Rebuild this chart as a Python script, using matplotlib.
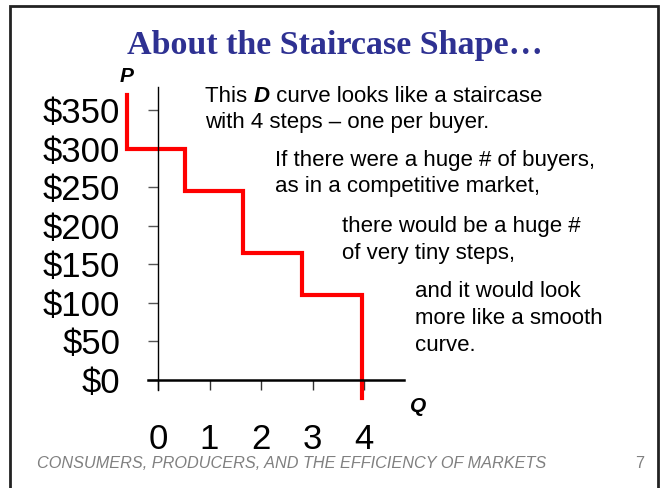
import matplotlib
matplotlib.use("Agg")
import matplotlib.pyplot as plt
from matplotlib.patches import Rectangle

# price / quantity ticks
price_ticks = [0, 50, 100, 150, 200, 250, 300, 350]
price_labels = ["$0", "$50", "$100", "$150", "$200", "$250", "$300", "$350"]
qty_ticks = [0, 1, 2, 3, 4]
qty_labels = ["0", "1", "2", "3", "4"]

# staircase demand curve (as drawn on the slide)
step_q = [-0.6, 0.52, 1.66, 2.8, 3.96]
step_p = [300, 245, 165, 110]
curve_top = 370
curve_bottom = -23

W, H = 665, 488
fig = plt.figure(figsize=(W / 100, H / 100), dpi=100)
plt.rcParams['font.family'] = ['Liberation Sans', 'DejaVu Sans']


def fx(x):
    return x / W


def fy(y):
    return 1 - y / H


# slide border
fig.patches.append(Rectangle((fx(10), fy(490)), fx(658) - fx(10), fy(6) - fy(490),
                             transform=fig.transFigure, fill=False,
                             edgecolor='#222222', linewidth=2))

fig.text(fx(335), fy(46), "About the Staircase Shape…", ha='center', va='center',
         fontsize=24.5, fontweight='bold', family='Liberation Serif', color='#2E3192')

# axes placed so that q=0 -> x 158px, p=0 -> y 380px
ax = fig.add_axes([fx(106.5), fy(418.6), fx(415.5) - fx(106.5), fy(71.4) - fy(418.6)])
ax.set_xlim(-1, 5)
ax.set_ylim(-50, 400)
ax.patch.set_alpha(0)
for s in ['top', 'right']:
    ax.spines[s].set_visible(False)
ax.spines['left'].set_position(('data', 0))
ax.spines['bottom'].set_position(('data', 0))
ax.spines['left'].set_bounds(-13, 380)
ax.spines['bottom'].set_bounds(-0.19, 4.78)
ax.spines['left'].set_linewidth(1.0)
ax.spines['bottom'].set_linewidth(1.8)

ax.set_yticks(price_ticks)
ax.set_yticklabels(price_labels)
ax.set_xticks(qty_ticks)
ax.set_xticklabels(qty_labels)
ax.tick_params(axis='y', length=7.2, width=1, color='#555555', pad=20, labelsize=25)
ax.tick_params(axis='x', length=7.2, width=1, color='#333333', pad=24, labelsize=25)

# build staircase
xs, ys = [step_q[0]], [curve_top]
for i, p in enumerate(step_p):
    xs += [step_q[i], step_q[i + 1]]
    ys += [p, p]
xs.append(step_q[-1])
ys.append(curve_bottom)
ax.plot(xs, ys, color='#FF0000', linewidth=3, solid_joinstyle='miter', clip_on=False)

fig.text(fx(127), fy(76), "P", ha='center', va='center', fontsize=15,
         fontweight='bold', fontstyle='italic')
fig.text(fx(418), fy(406), "Q", ha='center', va='center', fontsize=15,
         fontweight='bold', fontstyle='italic')

# text blocks
fs = 16
t1 = fig.text(fx(205), fy(102), "This ", fontsize=fs, va='baseline')
fig.canvas.draw()
r = fig.canvas.get_renderer()
bb = t1.get_window_extent(r)
tD = fig.text(bb.x1 / W, fy(102), "D", fontsize=fs, va='baseline',
              fontweight='bold', fontstyle='italic')
bb2 = tD.get_window_extent(r)
fig.text(bb2.x1 / W + 1 / W, fy(102), " curve looks like a staircase", fontsize=fs, va='baseline')
fig.text(fx(205), fy(128), "with 4 steps – one per buyer.", fontsize=fs, va='baseline')

fig.text(fx(275), fy(166), "If there were a huge # of buyers,", fontsize=fs, va='baseline')
fig.text(fx(275), fy(192), "as in a competitive market,", fontsize=fs, va='baseline')

fig.text(fx(342), fy(232), "there would be a huge #", fontsize=fs, va='baseline')
fig.text(fx(342), fy(259), "of very tiny steps,", fontsize=fs, va='baseline')

fig.text(fx(415), fy(297), "and it would look", fontsize=fs, va='baseline')
fig.text(fx(415), fy(324), "more like a smooth", fontsize=fs, va='baseline')
fig.text(fx(415), fy(351), "curve.", fontsize=fs, va='baseline')

fig.text(fx(37), fy(463), "CONSUMERS, PRODUCERS, AND THE EFFICIENCY OF MARKETS",
         fontsize=11.7, fontstyle='italic', color='#808080', va='center')
fig.text(fx(640), fy(463), "7", fontsize=11.7, color='#808080', va='center', ha='center')

fig.savefig("out.png", dpi=100)
